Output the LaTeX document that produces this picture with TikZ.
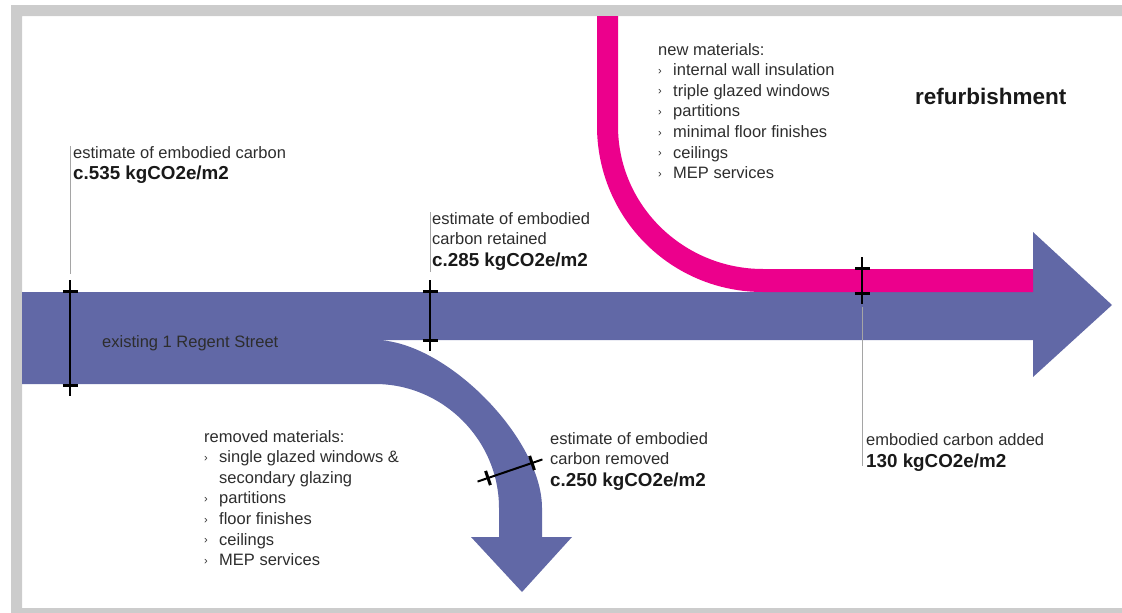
\documentclass[tikz,border=0pt]{standalone}
\usepackage{fontspec}
\setmainfont{Liberation Sans}
\usetikzlibrary{calc}
\usetikzlibrary{positioning}

\definecolor{bandblue}{RGB}{97,104,166}
\definecolor{bandpink}{RGB}{236,0,140}
\definecolor{framegray}{RGB}{204,204,204}
\definecolor{leadgray}{RGB}{165,165,165}
\definecolor{inkgray}{RGB}{45,45,45}

\newcommand\bul{\makebox[15pt][l]{\raisebox{1.5pt}{\fontsize{11}{11}\selectfont ›}}}
\newcommand\kg[1]{{\bfseries\fontsize{18.8}{20.6}\selectfont\color{black!90}#1}}
\newcommand\gauge[2]{%
  \draw[gaugeline] ($(#1)!-11pt!(#2)$) -- ($(#2)!-11pt!(#1)$);
  \draw[gaugetick] ($(#1)!7.5pt!90:(#2)$) -- ($(#1)!7.5pt!-90:(#2)$)
                   ($(#2)!7.5pt!90:(#1)$) -- ($(#2)!7.5pt!-90:(#1)$);}

\begin{document}
\begin{tikzpicture}[x=1pt,y=-1pt,
    note/.style={anchor=north west,align=left,inner sep=0pt,text=inkgray,
      font=\fontsize{16.5}{20.6}\selectfont},
    leader/.style={draw=leadgray,line width=0.8pt},
    gaugeline/.style={draw=black,line width=2pt},
    gaugetick/.style={draw=black,line width=3pt}]

  \useasboundingbox (0,0) rectangle (1122,613);
  \fill[framegray] (11,5) rectangle (1122,16) (11,5) rectangle (22,613) (11,608) rectangle (1122,613);

  \fill[bandblue] (22,292) -- (1033,292) -- (1033,232) -- (1112,305) -- (1033,377) -- (1033,340) -- (375,340)
    .. controls (445,340) and (542,438) .. (542,508) -- (542,537) -- (572,537) -- (522,592) -- (471,537)
    -- (499,537) -- (499,508) .. controls (499,440) and (443,384) .. (375,384) -- (22,384) -- cycle;
  \fill[bandpink] (597,16) -- (597,126) .. controls (597,218) and (671,292) .. (763,292) -- (1033,292)
    -- (1033,269) -- (763,269) .. controls (684,269) and (618,206) .. (618,126) -- (618,16) -- cycle;

  \coordinate (g1a) at (70,291);
  \coordinate (g1b) at (70,385);
  \coordinate (g2a) at (430,291);
  \coordinate (g2b) at (430,340);
  \coordinate (g3a) at (862,268);
  \coordinate (g3b) at (862,293);
  \coordinate (g4a) at (488,478);
  \coordinate (g4b) at (532,463);

  \node[note] (estAll) at (73,146) {estimate of embodied carbon\\[1pt]\kg{c.535 kgCO2e/m2}};
  \node[note] (estKept) at (432,212) {estimate of embodied\\carbon retained\\[1.5pt]\kg{c.285 kgCO2e/m2}};
  \node[note] (estGone) at (550,432) {estimate of embodied\\carbon removed\\[1.5pt]\kg{c.250 kgCO2e/m2}};
  \node[note] (added) at (866,433) {embodied carbon added\\[1.5pt]\kg{130 kgCO2e/m2}};
  \node[note] (existing) at (102,335) {existing 1 Regent Street};
  \node[note,font=\bfseries\fontsize{22.5}{26}\selectfont,text=black!90] (refurb) at (915,88) {refurbishment};
  \node[note] (newMat) at (658,43) {new materials:\\
    \bul internal wall insulation\\ \bul triple glazed windows\\ \bul partitions\\
    \bul minimal floor finishes\\ \bul ceilings\\ \bul MEP services};
  \node[note] (oldMat) at (204,430) {removed materials:\\
    \bul single glazed windows \&\\ \makebox[15pt]{}secondary glazing\\ \bul partitions\\
    \bul floor finishes\\ \bul ceilings\\ \bul MEP services};

  \path[leader]
    (estAll.north west -| g1a) edge[shorten >=17pt] (g1a)
    (estKept.north west -| g2a) edge[shorten >=19pt] (g2a)
    (g3b) edge[shorten <=14pt,shorten >=5pt] (g3b |- added.south);

  \gauge{g1a}{g1b}
  \gauge{g2a}{g2b}
  \gauge{g3a}{g3b}
  \gauge{g4a}{g4b}

\end{tikzpicture}
\end{document}
